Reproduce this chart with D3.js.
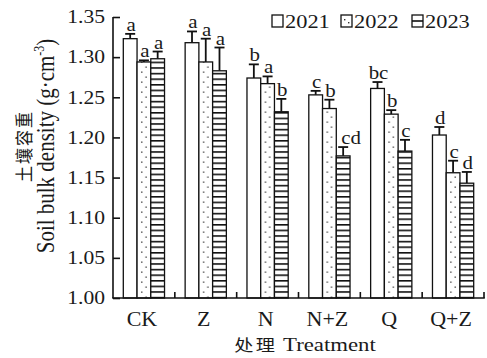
<!DOCTYPE html>
<html>
<head>
<meta charset="utf-8">
<script src="https://cdn.jsdelivr.net/npm/d3@7"></script>
<style>
  body { margin: 0; background: #fff; }
</style>
</head>
<body>
<svg id="chart" width="487" height="358" style="font-family: 'Liberation Serif', 'Times New Roman', Times, serif;"></svg>
<script>
"use strict"

let categories = ["CK", "Z", "N", "N+Z", "Q", "Q+Z"]
let years = ["2021", "2022", "2023"]
let yTicks = [1.00, 1.05, 1.10, 1.15, 1.20, 1.25, 1.30, 1.35]

// mean values per year, one entry per treatment
let v2021 = [1.323, 1.318, 1.274, 1.253, 1.261, 1.203]
let v2022 = [1.294, 1.294, 1.267, 1.236, 1.229, 1.156]
let v2023 = [1.298, 1.283, 1.232, 1.177, 1.183, 1.143]

// standard error (upper whisker length)
let e2021 = [0.006, 0.014, 0.017, 0.005, 0.008, 0.010]
let e2022 = [0.002, 0.029, 0.009, 0.011, 0.005, 0.015]
let e2023 = [0.009, 0.029, 0.016, 0.011, 0.014, 0.014]

// significance letters
let l2021 = ["a", "a", "b", "c", "bc", "d"]
let l2022 = ["a", "a", "a", "b", "b", "c"]
let l2023 = ["a", "a", "b", "cd", "c", "d"]

let values = [v2021, v2022, v2023]
let errors = [e2021, e2022, e2023]
let letters = [l2021, l2022, l2023]

let serif = "'Liberation Serif', 'Times New Roman', Times, serif"
let cjk = "'Noto Sans CJK SC', 'Noto Sans CJK JP', sans-serif"
let ink = "#1a1a1a"

// the original's type is a little wide: squeeze it sideways with a scale
function widen(sel, s) {
    sel.each(function () {
        let t = d3.select(this)
        let x0 = +(t.attr("x") || 0)
        t.attr("x", x0 / s).attr("transform", "scale(" + s + ",1)")
    })
}

let svg = d3.select("#chart")

let x = d3.scaleBand().domain(categories).range([113, 484])
let xs = d3.scaleBand().domain(years).range([0, x.bandwidth()]).paddingInner(0).paddingOuter(0.75)
let y = d3.scaleLinear().domain([1, 1.35]).range([298, 17])
let bw = xs.bandwidth()

// patterns: one dotted pattern per treatment so the dots sit centred in the bar
let defs = svg.append("defs")
categories.forEach(function (c, i) {
    let px = x(c) + xs("2022")
    let p = defs.append("pattern").attr("id", "dots" + i)
        .attr("patternUnits", "userSpaceOnUse").attr("x", px).attr("y", 0)
        .attr("width", bw).attr("height", 10)
    p.append("rect").attr("width", bw).attr("height", 10).attr("fill", "#fff")
    p.append("rect").attr("x", bw / 2 - 2.8).attr("y", 1.5).attr("width", 1.3).attr("height", 1.3).attr("fill", "#333")
    p.append("rect").attr("x", bw / 2 + 1.5).attr("y", 6.5).attr("width", 1.3).attr("height", 1.3).attr("fill", "#333")
})
let ldots = defs.append("pattern").attr("id", "ldots")
    .attr("patternUnits", "userSpaceOnUse").attr("x", 341).attr("y", 15).attr("width", 12).attr("height", 12)
ldots.append("rect").attr("width", 12).attr("height", 12).attr("fill", "#fff")
ldots.append("rect").attr("x", 3).attr("y", 4).attr("width", 1.4).attr("height", 1.4).attr("fill", "#333")
ldots.append("rect").attr("x", 7).attr("y", 7).attr("width", 1.4).attr("height", 1.4).attr("fill", "#333")

let hlines = defs.append("pattern").attr("id", "hlines")
    .attr("patternUnits", "userSpaceOnUse").attr("width", 10).attr("height", 5.6)
hlines.append("rect").attr("width", 10).attr("height", 5.6).attr("fill", "#fff")
hlines.append("rect").attr("y", 0).attr("width", 10).attr("height", 1.6).attr("fill", "#111")

let lhl = defs.append("pattern").attr("id", "lhl")
    .attr("patternUnits", "userSpaceOnUse").attr("x", 0).attr("y", 15).attr("width", 10).attr("height", 12)
lhl.append("rect").attr("width", 10).attr("height", 12).attr("fill", "#fff")
lhl.append("rect").attr("y", 5.2).attr("width", 10).attr("height", 1.6).attr("fill", "#111")

function barFill(k, i) {
    if (k === 0) return "#fff"
    if (k === 1) return "url(#dots" + i + ")"
    return "url(#hlines)"
}
let legendFills = ["#fff", "url(#ldots)", "url(#lhl)"]

let rows = []
years.forEach(function (yr, k) {
    categories.forEach(function (c, i) {
        rows.push({ cat: c, i: i, year: yr, k: k, v: values[k][i], e: errors[k][i], l: letters[k][i] })
    })
})

// error bars (drawn first so bars sit on top)
let eb = svg.append("g").attr("stroke", "#111").attr("stroke-width", 1.8)
rows.forEach(function (d) {
    let cx = x(d.cat) + xs(d.year) + bw / 2
    eb.append("line").attr("x1", cx).attr("x2", cx).attr("y1", y(d.v)).attr("y2", y(d.v + d.e))
    eb.append("line").attr("x1", cx - 5).attr("x2", cx + 5).attr("y1", y(d.v + d.e)).attr("y2", y(d.v + d.e))
})

svg.append("g").selectAll("rect")
    .data(rows)
    .enter().append("rect")
    .attr("x", function (d) { return x(d.cat) + xs(d.year) })
    .attr("y", function (d) { return y(d.v) })
    .attr("width", bw)
    .attr("height", function (d) { return y(1) - y(d.v) })
    .attr("fill", function (d) { return barFill(d.k, d.i) })
    .attr("stroke", "#111")
    .attr("stroke-width", 1.3)

// letters
let lt = svg.append("g").selectAll("text")
    .data(rows)
    .enter().append("text")
    .attr("x", function (d) {
        let cx = x(d.cat) + xs(d.year) + bw / 2 + 1
        if (d.l.length > 1 && d.k === 2) cx += 7
        return cx
    })
    .attr("y", function (d) { return y(d.v + d.e) - 3 })
    .attr("text-anchor", "middle")
    .style("font-family", serif).style("font-size", "19px").attr("fill", ink)
    .text(function (d) { return d.l })
widen(lt, 1.1)

// axes
let yAxis = d3.axisLeft(y).tickValues(yTicks).tickSize(-7).tickPadding(8)
    .tickFormat(d3.format(".2f"))
let gy = svg.append("g").attr("transform", "translate(113,0)").call(yAxis)
gy.attr("font-family", null).attr("font-size", null)
gy.select(".domain").attr("stroke", "#111").attr("stroke-width", 1.6).attr("d", "M0," + y(1.35) + "V" + y(1))
gy.selectAll(".tick line").attr("stroke", "#111").attr("stroke-width", 1.6)
let tl = gy.selectAll("text").style("font-family", serif).style("font-size", "18px").attr("fill", ink)
widen(tl, 1.2)

let boundaries = categories.map(function (c) { return x(c) + x.bandwidth() })
let gx = svg.append("g")
gx.append("line").attr("x1", 112.2).attr("x2", 484.8).attr("y1", y(1)).attr("y2", y(1))
    .attr("stroke", "#111").attr("stroke-width", 1.6)
gx.selectAll(".bt").data(boundaries).enter().append("line")
    .attr("x1", function (d) { return d }).attr("x2", function (d) { return d })
    .attr("y1", y(1)).attr("y2", y(1) - 6)
    .attr("stroke", "#111").attr("stroke-width", 1.6)
let xl = gx.selectAll(".lab").data(categories).enter().append("text")
    .attr("x", function (d) { return x(d) + x.bandwidth() / 2 - 2 })
    .attr("y", 326)
    .attr("text-anchor", "middle")
    .style("font-family", serif).style("font-size", "20px").attr("fill", ink)
    .text(function (d) { return d })
widen(xl, 1.1)

let xt = svg.append("text")
    .attr("x", 305).attr("y", 351)
    .attr("text-anchor", "middle")
    .style("font-family", serif).style("font-size", "19px").attr("fill", ink)
xt.append("tspan").style("font-family", cjk).style("font-size", "16px").style("letter-spacing", "2px").text("处理")
xt.append("tspan").text(" Treatment")
widen(xt, 1.2)

// y title
let yt = svg.append("g").attr("transform", "translate(0,146) rotate(-90) scale(1,1.15)")
yt.append("text").attr("x", 0).attr("y", 27)
    .attr("text-anchor", "middle")
    .style("font-family", cjk).style("font-size", "16px").style("letter-spacing", "2px").attr("fill", ink)
    .text("土壤容重")
let yt2 = yt.append("text").attr("x", 0).attr("y", 47)
    .attr("text-anchor", "middle")
    .style("font-family", serif).style("font-size", "21px").attr("fill", ink)
yt2.append("tspan").text("Soil bulk density (g·cm")
yt2.append("tspan").style("font-size", "12px").attr("dy", -9).text("-3")
yt2.append("tspan").attr("dy", 9).text(")")

// legend
let lg = svg.append("g")
let lx = [272, 341, 412]
years.forEach(function (yr, k) {
    lg.append("rect").attr("x", lx[k]).attr("y", 15).attr("width", 11).attr("height", 12)
        .attr("fill", legendFills[k]).attr("stroke", "#111").attr("stroke-width", 1.3)
    let t = lg.append("text").attr("x", lx[k] + 13).attr("y", 28)
        .style("font-family", serif).style("font-size", "19px").attr("fill", ink)
        .text(yr)
    widen(t, 1.18)
})
</script>
</body>
</html>
